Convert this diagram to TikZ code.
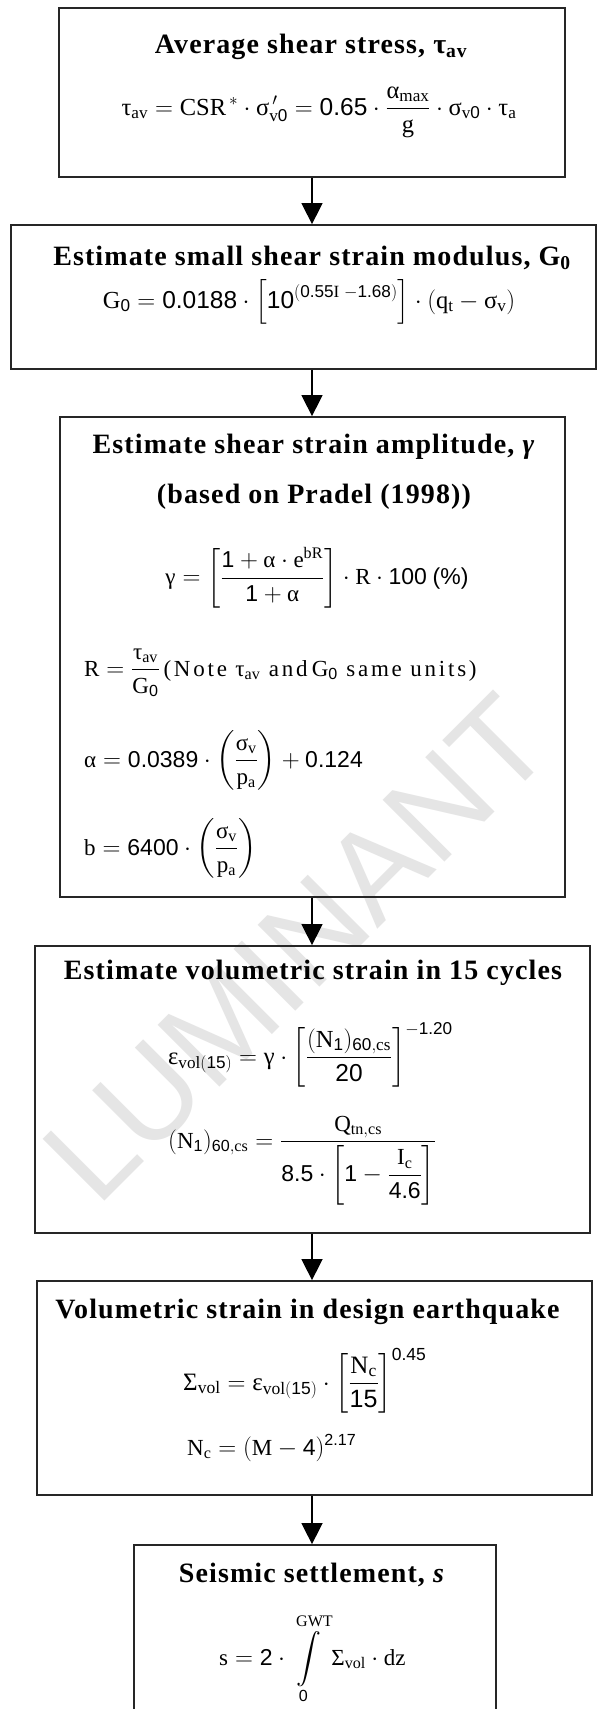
\documentclass[tikz,border=0pt]{standalone}
\usepackage{amsmath}
\usepackage{exscale}
\usepackage{fontspec}
\setmainfont{Liberation Serif}
\newfontfamily\tfont[LetterSpace=4]{Liberation Serif}
\newfontfamily\notefont[LetterSpace=12]{Liberation Serif}
\newfontfamily\nf{Liberation Sans}
\newfontfamily\wmfont{Liberation Sans}
\usetikzlibrary{arrows.meta}
\newcommand\mt[1]{\text{#1}}
\newcommand\nm[1]{\text{\nf #1}}
\newcommand\mcd{\mathbin{\cdot}}
\begin{document}
\begin{tikzpicture}[x=1pt,y=-1pt,
  box/.style={draw=black!85,line width=1.8pt,rectangle,inner sep=0pt},
  ttl/.style={inner sep=0pt,font=\tfont\bfseries\fontsize{28}{34}\selectfont},
  fml/.style={inner sep=0pt,font=\fontsize{23}{28}\selectfont},
  fmlw/.style={inner sep=0pt,font=\fontsize{24.5}{29}\selectfont},
  arr/.style={line width=1.5pt,draw=black,-{Triangle[length=21pt,width=21pt]}},
  wm/.style={rotate=45,text=black!10,inner sep=0pt,font=\wmfont\fontsize{127}{127}\selectfont}
]
\useasboundingbox (0,0) rectangle (598,1709);
\fill[white] (0,0) rectangle (598,1709);
% watermark
\node[wm] (wmark) at (297,949) {LUMINANT};
% boxes
\node[box,minimum width=506pt,minimum height=169pt] (b1) at (312,92.5) {};
\node[box,minimum width=585pt,minimum height=144pt] (b2) at (303.5,297) {};
\node[box,minimum width=505pt,minimum height=480pt] (b3) at (312.5,657) {};
\node[box,minimum width=555pt,minimum height=287pt] (b4) at (312.5,1089.5) {};
\node[box,minimum width=555pt,minimum height=214pt] (b5) at (314.5,1388) {};
\node[box,minimum width=362pt,minimum height=175pt] (b6) at (315,1632.5) {};
% arrows
\coordinate (ax) at (312,0);
\draw[arr] (ax |- b1.south) -- (ax |- b2.north);
\draw[arr] (ax |- b2.south) -- (ax |- b3.north);
\draw[arr] (ax |- b3.south) -- (ax |- b4.north);
\draw[arr] (ax |- b4.south) -- (ax |- b5.north);
\draw[arr] (ax |- b5.south) -- (ax |- b6.north);
% box 1
\node[ttl] (t1) at (311,47) {Average shear stress, τ\textsubscript{av}};
\node[fmlw] (f1) at (319,112) {$\mt{τ}_{\mathrm{av}} = \mathrm{CSR}^{\,*}\mcd\mt{σ}_{\mathrm{v}\nm{0}}^{\,\prime} = \nm{0.65}\mcd\dfrac{\mt{α}_{\mathrm{max}}}{\mathrm{g}}\mcd\mt{σ}_{\mathrm{v}\nm{0}}\mcd\mt{τ}_{\mathrm{a}}$};
% box 2
\node[ttl] (t2) at (312,258) {Estimate small shear strain modulus, G\textsubscript{0}};
\node[fmlw,anchor=base] (f2) at (309,308) {$\mathrm{G}_{\nm{0}} = \nm{0.0188}\mcd\left[\nm{10}^{(\nm{0.55}\mathrm{I}\;-\nm{1.68})}\right]\mcd(\mathrm{q}_{\mathrm{t}} - \mt{σ}_{\mathrm{v}})$};
% box 3
\node[ttl] (t3a) at (314,447) {Estimate shear strain amplitude, \textit{γ}};
\node[ttl] (t3b) at (314,497) {(based on Pradel (1998))};
\node[fml] (f3a) at (317,578) {$\mt{γ} = \left[\dfrac{\nm{1} + \mt{α}\mcd\mathrm{e}^{\mathrm{bR}}}{\nm{1} + \mt{α}}\right]\mcd\mathrm{R}\mcd\nm{100}\ \nm{(\%)}$};
\node[fml,anchor=base west] (f3b) at (84,676) {$\mathrm{R} = \dfrac{\mt{τ}_{\mathrm{av}}}{\mathrm{G}_{\nm{0}}}$\,{\notefont(Note }$\mt{τ}_{\mathrm{av}}${\notefont\ and}$\,\mathrm{G}_{\nm{0}}${\notefont\ same units)}};
\node[fml,anchor=base west] (f3c) at (84,767) {$\mt{α} = \nm{0.0389}\mcd\left(\dfrac{\mt{σ}_{\mathrm{v}}}{\mathrm{p}_{\mathrm{a}}}\right) + \nm{0.124}$};
\node[fml,anchor=base west] (f3d) at (84,855) {$\mathrm{b} = \nm{6400}\mcd\left(\dfrac{\mt{σ}_{\mathrm{v}}}{\mathrm{p}_{\mathrm{a}}}\right)$};
% box 4
\node[ttl] (t4) at (313,973) {Estimate volumetric strain in 15 cycles};
\node[fmlw,anchor=base west] (f4a) at (168,1064) {$\mt{ε}_{\mathrm{vol}(\nm{15})} = \mt{γ}\mcd\left[\dfrac{(\mathrm{N}_{\nm{1}})_{\nm{60},\mathrm{cs}}}{\nm{20}}\right]^{-\nm{1.20}}$};
\node[fml,anchor=base west] (f4b) at (168,1148) {$(\mathrm{N}_{\nm{1}})_{\nm{60},\mathrm{cs}} = \dfrac{\mathrm{Q}_{\mathrm{tn},\mathrm{cs}}}{\nm{8.5}\mcd\left[\nm{1} - \dfrac{\mathrm{I}_{\mathrm{c}}}{\nm{4.6}}\right]}$};
% box 5
\node[ttl] (t5) at (307.5,1312) {Volumetric strain in design earthquake};
\node[inner sep=0pt,font=\fontsize{25}{30}\selectfont,anchor=base west] (f5a) at (183,1390) {$\mt{Σ}_{\mathrm{vol}} = \mt{ε}_{\mathrm{vol}(\nm{15})}\mcd\left[\dfrac{\mathrm{N}_{\mathrm{c}}}{\nm{15}}\right]^{\nm{0.45}}$};
\node[fml,anchor=base west] (f5b) at (187,1455) {$\mathrm{N}_{\mathrm{c}} = (\mathrm{M} - \nm{4})^{\nm{2.17}}$};
% box 6
\node[ttl] (t6) at (312,1575) {Seismic settlement, \textit{s}};
\node[fml,anchor=base west] (f6) at (219,1665) {$\mathrm{s} = \nm{2}\mcd\displaystyle\int\limits_{\nm{0}}^{\mathrm{GWT}}\mt{Σ}_{\mathrm{vol}}\mcd\mathrm{dz}$};
\end{tikzpicture}
\end{document}
